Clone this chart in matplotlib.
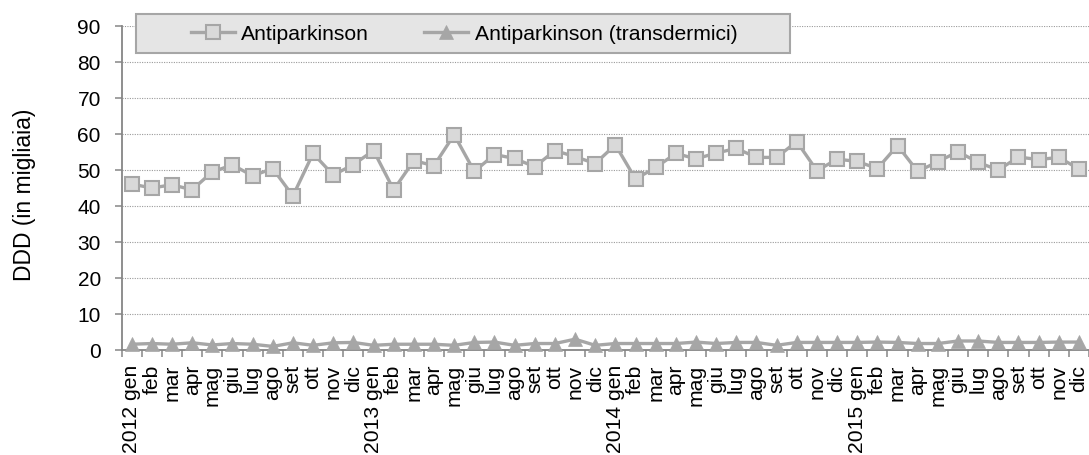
import matplotlib
matplotlib.use("Agg")
import matplotlib.pyplot as plt
from matplotlib.patches import Rectangle
from matplotlib.ticker import FixedLocator, MultipleLocator

plt.rcParams['font.family'] = ['Liberation Sans', 'DejaVu Sans']

years = [2012, 2013, 2014, 2015]
months = ['gen', 'feb', 'mar', 'apr', 'mag', 'giu', 'lug', 'ago', 'set', 'ott', 'nov', 'dic']

antiparkinson = [
    46.1, 45.0, 45.9, 44.5, 49.5, 51.4, 48.4, 50.4, 42.8, 54.6, 48.6, 51.5,
    55.4, 44.5, 52.6, 51.2, 59.8, 49.6, 54.3, 53.2, 50.9, 55.4, 53.7, 51.8,
    57.0, 47.5, 50.7, 54.6, 53.1, 54.7, 56.0, 53.5, 53.5, 57.9, 49.8, 53.0,
    52.4, 50.4, 56.8, 49.6, 52.3, 55.1, 52.1, 50.0, 53.6, 52.9, 53.5, 50.3,
]
transdermici = [
    1.6, 1.8, 1.6, 2.0, 1.4, 1.8, 1.6, 1.0, 2.0, 1.3, 2.0, 2.1,
    1.3, 1.6, 1.6, 1.6, 1.3, 2.1, 2.2, 1.3, 1.8, 1.8, 3.0, 1.3,
    1.8, 1.8, 1.8, 1.8, 2.2, 1.8, 2.1, 2.1, 1.3, 2.1, 2.1, 2.1,
    2.1, 2.2, 2.1, 1.8, 1.8, 2.5, 2.5, 2.1, 2.1, 2.1, 2.2, 2.2,
]

labels = []
for y in years:
    for m in months:
        labels.append(f"{y} {m}" if m == 'gen' else m)

W, H = 1089, 456
fig = plt.figure(figsize=(W / 100, H / 100), dpi=100)
ax = fig.add_axes([121.6 / W, 1 - 351 / H, 1 - 121.6 / W, (351 - 27) / H])

x = list(range(len(labels)))
line_col = '#a6a6a6'
ax.plot(x, antiparkinson, color=line_col, lw=2.4, marker='s', ms=10.5,
        mfc='#d9d9d9', mec=line_col, mew=1.5, label='Antiparkinson', zorder=3,
        clip_on=False)
ax.plot(x, transdermici, color=line_col, lw=2.4, marker='^', ms=10.5,
        mfc=line_col, mec=line_col, mew=0.5, label='Antiparkinson (transdermici)',
        zorder=3, clip_on=False)

ax.set_xlim(-0.5, len(labels) - 0.5)
ax.set_ylim(0, 90)
ax.yaxis.set_major_locator(MultipleLocator(10))
ax.grid(axis='y', color='#9a9a9a', linestyle=(0, (1, 1.2)), lw=0.8)
ax.set_axisbelow(True)

ax.xaxis.set_major_locator(FixedLocator(x))
ax.set_xticklabels(labels, rotation=90, va='top', ha='center')
ax.xaxis.set_minor_locator(FixedLocator([i - 0.5 for i in x] + [len(x) - 0.5]))
ax.tick_params(axis='x', which='major', length=0, pad=10, labelsize=15.2)
ax.tick_params(axis='x', which='minor', length=5, width=1.1, color='#868686')
ax.tick_params(axis='y', length=5, width=1.1, color='#868686', pad=10, labelsize=15)

for s in ['top', 'right']:
    ax.spines[s].set_visible(False)
for s in ['left', 'bottom']:
    ax.spines[s].set_color('#868686')
    ax.spines[s].set_linewidth(1.3)

ax.set_ylabel('DDD (in migliaia)', fontsize=16.5)
ax.yaxis.set_label_coords((36 - 121.6) / (W - 121.6), (351 - 195) / 324)

box = Rectangle((135.7 / W, 1 - 54.3 / H), 654.3 / W, 39.3 / H,
                transform=fig.transFigure, facecolor='#e5e5e5',
                edgecolor='#a6a6a6', lw=1.5, zorder=4.5, clip_on=False)
ax.add_artist(box)
leg = ax.legend(loc='center', bbox_to_anchor=(464 / W, 1 - 34.7 / H),
                bbox_transform=fig.transFigure, ncol=2, frameon=False,
                fontsize=15.2, handlelength=2.1, handletextpad=0.3,
                columnspacing=2.6)
leg.set_zorder(5)

fig.savefig('out.png', dpi=100)
